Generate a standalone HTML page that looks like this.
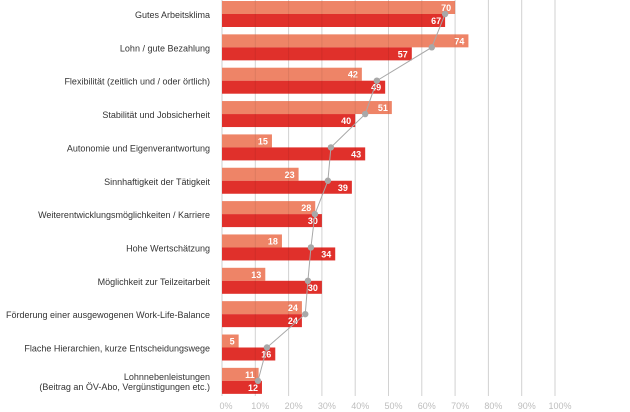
<!DOCTYPE html>
<html><head><meta charset="utf-8"><style>
html,body{margin:0;padding:0;background:#fff;}
svg{display:block;font-family:"Liberation Sans",Arial,sans-serif;}
</style></head><body>
<svg id="chart" width="630" height="412"></svg>
<script>
const categories=["Gutes Arbeitsklima","Lohn / gute Bezahlung","Flexibilität (zeitlich und / oder örtlich)","Stabilität und Jobsicherheit","Autonomie und Eigenverantwortung","Sinnhaftigkeit der Tätigkeit","Weiterentwicklungsmöglichkeiten / Karriere","Hohe Wertschätzung","Möglichkeit zur Teilzeitarbeit","Förderung einer ausgewogenen Work-Life-Balance","Flache Hierarchien, kurze Entscheidungswege","Lohnnebenleistungen|(Beitrag an ÖV-Abo, Vergünstigungen etc.)"];
const seriesA=[70,74,42,51,15,23,28,18,13,24,5,11];
const seriesB=[67,57,49,40,43,39,30,34,30,24,16,12];
const seriesLine=[67,63,46.5,43,32.7,31.8,27.9,26.7,25.8,25,13.5,10.8];
const ticks=[0,10,20,30,40,50,60,70,80,90,100];
const NS="http://www.w3.org/2000/svg";
const svg=document.getElementById('chart');
const x0=222,pxPer=3.33,top0=1,pitch=33.35,bh=13;
const xs=v=>x0+v*pxPer;
const yg=i=>top0+i*pitch;
function mk(t,a){const e=document.createElementNS(NS,t);for(const k in a)e.setAttribute(k,a[k]);svg.appendChild(e);return e;}
ticks.forEach(t=>{
 const g=mk('line',{x1:xs(t),x2:xs(t),y1:0,y2:396,stroke:t===0?'#cfcfcf':'#e2e2e2','stroke-width':1});
 
 
 const l=mk('text',{x:xs(t)+(t===0?4:5),y:409,'font-size':9,fill:'#bdbdbd','text-anchor':'middle'});
 l.textContent=t+'%';
 
 
});
categories.forEach((c,i)=>{
 const y=yg(i);
 const parts=c.split('|');
 parts.forEach((p,j)=>{
  const t=mk('text',{x:210,y:y+17+(parts.length>1?(j*10-5):0),'font-size':9,fill:'#333','text-anchor':'end'});
  t.textContent=p;
  
  
 });
 const a=mk('rect',{x:x0,y:y,width:seriesA[i]*pxPer,height:bh,fill:'#ee8467'});
 
 
 const b=mk('rect',{x:x0,y:y+bh,width:seriesB[i]*pxPer,height:bh,fill:'#e0302b'});
 
 
 const ta=mk('text',{x:xs(seriesA[i])-4,y:y+10,'font-size':9,'font-weight':'bold',fill:'#fff','text-anchor':'end'});
 ta.textContent=seriesA[i];
 
 
 const tb=mk('text',{x:xs(seriesB[i])-4,y:y+bh+10,'font-size':9,'font-weight':'bold',fill:'#fff','text-anchor':'end'});
 tb.textContent=seriesB[i];
 
 
});
ticks.forEach(t=>{
 if(t===0)return;
 const o=mk('line',{x1:xs(t),x2:xs(t),y1:0,y2:396,stroke:'rgba(0,0,0,0.07)','stroke-width':1});
 
 
});
const pts=seriesLine.map((v,i)=>xs(v)+','+(yg(i)+bh)).join(' ');
const pl=mk('polyline',{points:pts,fill:'none',stroke:'#a8a8a8','stroke-width':1});


seriesLine.forEach((v,i)=>{
 const c=mk('circle',{cx:xs(v),cy:yg(i)+bh,r:3.2,fill:'#a8a8a8'});
 
 
});
</script>
</body></html>
